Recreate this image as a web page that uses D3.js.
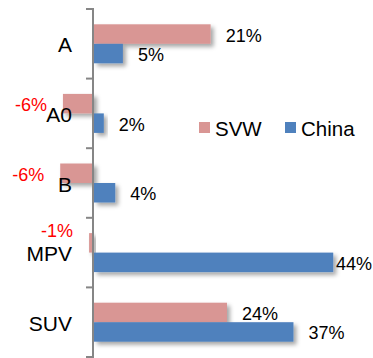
<!DOCTYPE html>
<html><head><meta charset="utf-8">
<script src="https://cdn.jsdelivr.net/npm/d3@7"></script>
<style>
html,body{margin:0;padding:0;background:#fff;}
svg{display:block;font-family:"Liberation Sans",Arial,sans-serif;}
</style></head>
<body>
<svg id="chart" width="373" height="358"></svg>
<script>
const categories = ["A","A0","B","MPV","SUV"];
const svwValues = [21.4, -5.7, -6.2, -0.9, 24.4];
const chinaValues = [5.3, 1.8, 3.9, 43.9, 36.6];
const seriesNames = ["SVW","China"];
const seriesColors = ["#D99694","#4F81BD"];

const W = 373, H = 358;
const svg = d3.select("#chart");
const defs = svg.append("defs");
const f = defs.append("filter").attr("id","shadow").attr("x","-20%").attr("y","-30%").attr("width","160%").attr("height","200%");
f.append("feDropShadow").attr("dx",3).attr("dy",3).attr("stdDeviation",2)
  .attr("flood-color","#000").attr("flood-opacity",0.35);

const x = d3.scaleLinear().domain([-10, 50]).range([39.5, 366.5]);
const y = d3.scaleBand().domain(categories).range([9, 357]).padding(0);
const barH = 19.5;

const series = [svwValues, chinaValues];

// bars
series.forEach((vals,s)=>{
  svg.append("g").selectAll("rect").data(vals).join("rect")
    .attr("x", d=>x(Math.min(0,d)))
    .attr("y", (d,i)=>y(categories[i])+y.bandwidth()/2 - barH + s*barH)
    .attr("width", d=>Math.abs(x(d)-x(0)))
    .attr("height", barH)
    .attr("fill", seriesColors[s])
    .attr("filter","url(#shadow)");
});

// axis
const axisG = svg.append("g");
axisG.append("line").attr("x1",x(0)-1).attr("x2",x(0)-1).attr("y1",y.range()[0]).attr("y2",y.range()[1])
  .attr("stroke","#868686").attr("stroke-width",2);
const tickYs = categories.map(c=>y(c)).concat([y.range()[1]]);
tickYs.forEach(t=>{
  axisG.append("line").attr("x1",x(0)-8).attr("x2",x(0)).attr("y1",t).attr("y2",t)
    .attr("stroke","#868686").attr("stroke-width",2);
});

// category labels (drawn over bars)
const catLabels = [];
categories.forEach((c,i)=>{
  const t = svg.append("text")
    .attr("x", 72).attr("y", y(c)+y.bandwidth()/2+1)
    .attr("text-anchor","end").attr("dominant-baseline","central")
    .attr("font-size",21).attr("fill","#000").text(c);
  catLabels.push(t);
});

// value labels
series.forEach((vals,s)=>{
  vals.forEach((d,i)=>{
    const cy = y(categories[i])+y.bandwidth()/2 - barH/2 + s*barH + 1.5;
    const lbl = Math.round(d) + "%";
    const t = svg.append("text").attr("font-size",18).attr("dominant-baseline","central")
      .attr("fill", d<0 ? "#FF0000" : "#000").text(lbl).attr("y", cy);
    const w = t.node().getComputedTextLength();
    if (d >= 0) {
      let lx = x(d) + 15;
      if (lx + w > W - 1) lx = W - 1 - w;
      t.attr("x", lx);
    } else {
      const lx = x(d) - 16;
      t.attr("x", lx).attr("text-anchor","end");
      // if the label would run into the category name, lift it above
      const cb = catLabels[i].node().getBBox();
      const overlapX = Math.min(lx, cb.x + cb.width) - Math.max(lx - w, cb.x);
      if (overlapX > 10) {
        t.attr("y", y(categories[i]) + y.bandwidth()/2 - 22);
      }
    }
  });
});

// legend
const lg = svg.append("g");
const legendX = [199, 285];
seriesNames.forEach((n,s)=>{
  lg.append("rect").attr("x",legendX[s]).attr("y",122).attr("width",11).attr("height",11).attr("fill",seriesColors[s]);
  lg.append("text").attr("x",legendX[s]+16).attr("y",128).attr("dominant-baseline","central")
    .attr("font-size",20.5).attr("fill","#000").text(n);
});
</script>
</body></html>
